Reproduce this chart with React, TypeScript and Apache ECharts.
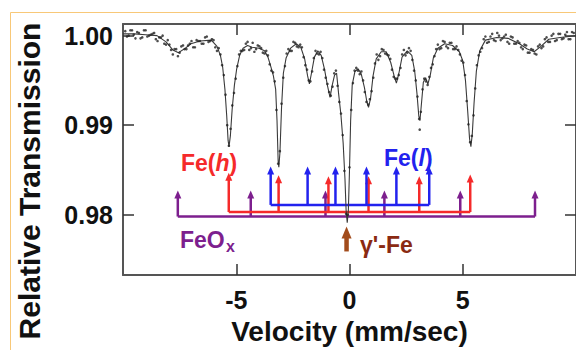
import React, { useEffect, useRef } from 'react';
import * as echarts from 'echarts';

// ---------- data ----------
const xTickLabels = [-5, 0, 5];
const yTickLabels = [0.98, 0.99, 1.0];

// fitted transmission curve [velocity mm/s, relative transmission]
const fitCurve: [number, number][] = [
  [-10.0, 1.0002], [-9.5, 1.0002], [-9.0, 1.0001], [-8.5, 1.0], [-8.1, 0.9993],
  [-7.8, 0.9984], [-7.55, 0.9981], [-7.3, 0.9985], [-7.0, 0.9991], [-6.6, 0.9994],
  [-6.1, 0.9995], [-5.85, 0.9988], [-5.7, 0.9978], [-5.6, 0.9965], [-5.5, 0.994],
  [-5.42, 0.991], [-5.36, 0.9883], [-5.32, 0.9876], [-5.26, 0.9888], [-5.18, 0.9918],
  [-5.08, 0.9945], [-4.98, 0.9963], [-4.85, 0.9978], [-4.7, 0.9986], [-4.5, 0.9989],
  [-4.3, 0.9987], [-4.0, 0.9986], [-3.75, 0.9983], [-3.6, 0.9976], [-3.48, 0.9966],
  [-3.36, 0.9955], [-3.26, 0.994], [-3.2, 0.9905], [-3.15, 0.986], [-3.12, 0.9853],
  [-3.07, 0.987], [-3.0, 0.992], [-2.92, 0.9958], [-2.8, 0.9975], [-2.6, 0.9986],
  [-2.35, 0.9991], [-2.15, 0.9987], [-1.98, 0.9974], [-1.85, 0.9955], [-1.77, 0.9946],
  [-1.68, 0.9958], [-1.55, 0.9976], [-1.4, 0.9983], [-1.25, 0.9978], [-1.1, 0.9962],
  [-0.98, 0.9945], [-0.86, 0.9931], [-0.76, 0.9945], [-0.66, 0.9956], [-0.57, 0.9958],
  [-0.48, 0.9935], [-0.38, 0.9912], [-0.28, 0.988], [-0.2, 0.984], [-0.15, 0.9805],
  [-0.1, 0.9791], [-0.05, 0.9805], [0.0, 0.985], [0.05, 0.9905], [0.12, 0.9945],
  [0.24, 0.996], [0.38, 0.9963], [0.52, 0.9957], [0.66, 0.9942], [0.76, 0.9927],
  [0.84, 0.992], [0.93, 0.993], [1.04, 0.9955], [1.18, 0.9974], [1.4, 0.9982],
  [1.62, 0.9982], [1.82, 0.997], [1.97, 0.9955], [2.07, 0.9947], [2.18, 0.9958],
  [2.32, 0.9976], [2.55, 0.9983], [2.75, 0.9978], [2.88, 0.996], [2.98, 0.9935],
  [3.06, 0.991], [3.11, 0.9905], [3.18, 0.9925], [3.26, 0.9948], [3.36, 0.9953],
  [3.46, 0.9946], [3.56, 0.9955], [3.7, 0.9975], [3.9, 0.9986], [4.2, 0.9991],
  [4.55, 0.9989], [4.85, 0.9982], [5.0, 0.9972], [5.12, 0.995], [5.22, 0.9915],
  [5.3, 0.9885], [5.36, 0.9876], [5.42, 0.989], [5.5, 0.9925], [5.6, 0.996],
  [5.75, 0.9983], [6.0, 0.9995], [6.5, 0.9998], [7.0, 0.9997], [7.5, 0.9991],
  [7.85, 0.9985], [8.15, 0.9982], [8.45, 0.9988], [8.8, 0.9996], [9.3, 0.9998],
  [10.0, 1.0],
];

// measured points, first channel set [velocity mm/s, relative transmission]
const measuredA: [number, number][] = [
  [-9.9, 1.0005], [-9.75, 1.0], [-9.6, 1.0006], [-9.45, 0.9997], [-9.3, 1.0003],
  [-9.15, 0.9998], [-9.0, 1.0006], [-8.85, 1.0], [-8.7, 1.0002], [-8.55, 0.9996],
  [-8.4, 0.9998], [-8.25, 1.0], [-8.1, 0.999], [-7.95, 0.999], [-7.8, 0.9979],
  [-7.65, 0.9985], [-7.5, 0.9981], [-7.35, 0.9989], [-7.2, 0.9985], [-7.05, 0.9991],
  [-6.9, 0.9987], [-6.75, 0.9995], [-6.6, 0.9994], [-6.45, 0.9991], [-6.3, 0.9999],
  [-6.15, 0.9994], [-6.0, 0.9995], [-5.85, 0.9983], [-5.7, 0.9979], [-5.55, 0.9956],
  [-5.4, 0.99], [-5.25, 0.9896], [-5.1, 0.9936], [-4.95, 0.9966], [-4.8, 0.9983],
  [-4.65, 0.9984], [-4.5, 0.9993], [-4.35, 0.9986], [-4.2, 0.9982], [-4.05, 0.9989],
  [-3.9, 0.9986], [-3.75, 0.998], [-3.6, 0.9978], [-3.45, 0.9961], [-3.3, 0.9949],
  [-3.15, 0.9857], [-3.0, 0.9924], [-2.85, 0.9966], [-2.7, 0.9985], [-2.55, 0.9983],
  [-2.4, 0.9992], [-2.25, 0.9987], [-2.1, 0.9987], [-1.95, 0.9967], [-1.8, 0.995],
  [-1.65, 0.996], [-1.5, 0.9983], [-1.35, 0.9979], [-1.2, 0.9975], [-1.05, 0.9953],
  [-0.9, 0.9937], [-0.75, 0.9943], [-0.6, 0.9961], [-0.45, 0.9926], [-0.3, 0.9889],
  [-0.15, 0.9801], [0.0, 0.9853], [0.15, 0.9947], [0.3, 0.9964], [0.45, 0.9957],
  [0.6, 0.995], [0.75, 0.9926], [0.9, 0.9929], [1.05, 0.9953], [1.2, 0.9979],
  [1.35, 0.9977], [1.5, 0.9984], [1.65, 0.9979], [1.8, 0.9974], [1.95, 0.9954],
  [2.1, 0.9952], [2.25, 0.9964], [2.4, 0.9984], [2.55, 0.9981], [2.7, 0.9983],
  [2.85, 0.9961], [3.0, 0.9932], [3.1, 0.9895], [3.15, 0.9915], [3.3, 0.9952],
  [3.45, 0.9945], [3.6, 0.9964], [3.75, 0.9977], [3.9, 0.999], [4.05, 0.9986],
  [4.2, 0.9993], [4.35, 0.9986], [4.5, 0.9992], [4.65, 0.9985], [4.8, 0.9984],
  [4.95, 0.9972], [5.1, 0.9956], [5.25, 0.9901], [5.4, 0.9888], [5.55, 0.9941],
  [5.7, 0.9978], [5.85, 0.9986], [6.0, 0.9999], [6.15, 0.9993], [6.3, 1.0002],
  [6.45, 0.9994], [6.6, 1.0], [6.75, 0.9997], [6.9, 1.0001], [7.05, 0.9991],
  [7.2, 0.9998], [7.35, 0.9991], [7.5, 0.9992], [7.65, 0.9985], [7.8, 0.9989],
  [7.95, 0.9981], [8.1, 0.9984], [8.25, 0.9979], [8.4, 0.999], [8.55, 0.9988],
  [8.7, 0.9998], [8.85, 0.9993], [9.0, 1.0002], [9.15, 0.9995], [9.3, 1.0002],
  [9.45, 0.9997], [9.6, 1.0004], [9.75, 0.9996], [9.9, 1.0003],
];

// measured points, second (interleaved) channel set
const measuredB: [number, number][] = [
  [-9.825, 0.9999], [-9.675, 1.0006], [-9.525, 1.0001], [-9.375, 1.0004], [-9.225, 0.9997],
  [-9.075, 1.0006], [-8.925, 0.9999], [-8.775, 1.0001], [-8.625, 1.0003], [-8.475, 0.9994],
  [-8.325, 0.9998], [-8.175, 0.9991], [-8.025, 0.9995], [-7.875, 0.9984], [-7.725, 0.9985],
  [-7.575, 0.9977], [-7.425, 0.9988], [-7.275, 0.9985], [-7.125, 0.9989], [-6.975, 0.9994],
  [-6.825, 0.9987], [-6.675, 0.9994], [-6.525, 0.9991], [-6.375, 0.9998], [-6.225, 0.9993],
  [-6.075, 0.9996], [-5.925, 0.9987], [-5.775, 0.9986], [-5.625, 0.9967], [-5.475, 0.9934],
  [-5.325, 0.9877], [-5.175, 0.9922], [-5.025, 0.9952], [-4.875, 0.9979], [-4.725, 0.9983],
  [-4.575, 0.9991], [-4.425, 0.9984], [-4.275, 0.9992], [-4.125, 0.9985], [-3.975, 0.9988],
  [-3.825, 0.9981], [-3.675, 0.9983], [-3.525, 0.9968], [-3.375, 0.9959], [-3.225, 0.9917],
  [-3.075, 0.9871], [-2.925, 0.9953], [-2.775, 0.998], [-2.625, 0.9983], [-2.475, 0.9993],
  [-2.325, 0.9988], [-2.175, 0.999], [-2.025, 0.9976], [-1.875, 0.9962], [-1.725, 0.9949],
  [-1.575, 0.9975], [-1.425, 0.998], [-1.275, 0.9982], [-1.125, 0.9962], [-0.975, 0.9946],
  [-0.825, 0.9933], [-0.675, 0.9958], [-0.525, 0.9944], [-0.375, 0.9913], [-0.225, 0.9849],
  [-0.075, 0.98], [0.075, 0.9917], [0.225, 0.9961], [0.375, 0.9961], [0.525, 0.996],
  [0.675, 0.9937], [0.825, 0.9923], [0.975, 0.9938], [1.125, 0.9969], [1.275, 0.9973],
  [1.425, 0.9985], [1.575, 0.998], [1.725, 0.9978], [1.875, 0.9962], [2.025, 0.9952],
  [2.175, 0.9956], [2.325, 0.9979], [2.475, 0.9978], [2.625, 0.9986], [2.775, 0.9973],
  [2.925, 0.995], [3.075, 0.9907], [3.225, 0.994], [3.375, 0.9949], [3.525, 0.9954],
  [3.675, 0.9968], [3.825, 0.9985], [3.975, 0.9985], [4.125, 0.9994], [4.275, 0.9988],
  [4.425, 0.9992], [4.575, 0.9985], [4.725, 0.9988], [4.875, 0.9979], [5.025, 0.997],
  [5.175, 0.9927], [5.325, 0.9881], [5.475, 0.9911], [5.625, 0.9967], [5.775, 0.9982],
  [5.925, 0.9996], [6.075, 0.9992], [6.225, 0.9999], [6.375, 0.9995], [6.525, 1.0003],
  [6.675, 0.9995], [6.825, 0.9999], [6.975, 0.9993], [7.125, 0.9999], [7.275, 0.9991],
  [7.425, 0.9994], [7.575, 0.9987], [7.725, 0.999], [7.875, 0.9981], [8.025, 0.9985],
  [8.175, 0.998], [8.325, 0.9988], [8.475, 0.9986], [8.625, 0.9996], [8.775, 0.9993],
  [8.925, 1.0], [9.075, 0.9994], [9.225, 1.0002], [9.375, 0.9996], [9.525, 1.0001],
  [9.675, 0.9996], [9.825, 1.0004],
];

// stick diagrams: line positions (mm/s), base level and arrow-tip level
const feHighPositions = [-5.33, -3.13, -0.93, 0.84, 3.08, 5.33];
const feHighTips = [0.9847, 0.9844, 0.9843, 0.9843, 0.9843, 0.9845];
const feHighBase = 0.9803;

const feLowPositions = [-3.48, -1.85, -0.62, 0.75, 2.07, 3.52];
const feLowTips = [0.9854, 0.9854, 0.9854, 0.9854, 0.9854, 0.9854];
const feLowBase = 0.9811;

const feOxPositions = [-7.58, -4.36, -1.06, 1.54, 4.89, 8.19];
const feOxTips = [0.9827, 0.9827, 0.9827, 0.9827, 0.9827, 0.9827];
const feOxBase = 0.9798;

const gammaPositions = [-0.13];
const gammaTips = [0.9787];
const gammaBase = 0.9759;

// ---------- styling ----------
const FONT = 'Arial, "Liberation Sans", Helvetica, sans-serif';
const RED = '#f52a2a';
const BLUE = '#2222ee';
const PURPLE = '#7d1f8e';
const BROWN = '#a24c1c';
const BROWN_TEXT = '#8a2a12';
const AXIS = '#555';

function stickRenderer(color: string, lw: number, headW: number, headH: number) {
  return (_params: any, api: any) => {
    const v = api.value(0);
    const p0 = api.coord([v, api.value(1)]);
    const p1 = api.coord([v, api.value(2)]);
    return {
      type: 'group',
      children: [
        {
          type: 'line',
          shape: { x1: p0[0], y1: p0[1], x2: p1[0], y2: p1[1] + headH - 1 },
          style: { stroke: color, lineWidth: lw },
        },
        {
          type: 'polygon',
          shape: {
            points: [
              [p1[0], p1[1]],
              [p1[0] - headW / 2, p1[1] + headH],
              [p1[0] + headW / 2, p1[1] + headH],
            ],
          },
          style: { fill: color },
        },
      ],
    };
  };
}

function stickSeries(name: string, pos: number[], tips: number[], base: number, color: string, lw = 2.5, hw = 7, hh = 8) {
  return {
    type: 'custom',
    name,
    xAxisIndex: 0,
    yAxisIndex: 0,
    data: pos.map((p, i) => [p, base, tips[i]]),
    encode: { x: 0, y: [1, 2] },
    renderItem: stickRenderer(color, lw, hw, hh),
    silent: true,
    z: 2,
  };
}

function baseSeries(name: string, pos: number[], base: number, color: string) {
  return {
    type: 'line',
    name,
    data: [[Math.min(...pos), base], [Math.max(...pos), base]],
    showSymbol: false,
    symbol: 'none',
    lineStyle: { color, width: 2.5 },
    silent: true,
    z: 2,
  };
}

export default function App() {
  const ref = useRef<HTMLDivElement>(null);
  useEffect(() => {
    if (!ref.current) return;
    const chart = echarts.init(ref.current, undefined, { renderer: 'svg' });
    const yMin = 0.97326;
    const yMax = 1.0013;
    const axisLine = { show: true, onZero: false, lineStyle: { color: AXIS, width: 2 } };
    const tick = (vals: number[]) => ({ show: true, inside: true, length: 11, customValues: vals, lineStyle: { color: '#333', width: 1.5 } });
    const option: any = {
      animation: false,
      backgroundColor: '#fff',
      grid: { left: 123, top: 24, width: 455, height: 258 },
      xAxis: [
        {
          type: 'value', min: -10, max: 10, interval: 5, position: 'bottom',
          axisLine, axisTick: tick(xTickLabels),
          axisLabel: { customValues: xTickLabels, fontSize: 25, fontWeight: 'bold', color: '#111', margin: 12, fontFamily: FONT },
          splitLine: { show: false },
          name: 'Velocity (mm/sec)', nameLocation: 'middle', nameGap: 38,
          nameTextStyle: { fontSize: 28, fontWeight: 'bold', color: '#111', fontFamily: FONT },
        },
        {
          type: 'value', min: -10, max: 10, interval: 5, position: 'top',
          axisLine, axisTick: tick(xTickLabels), axisLabel: { show: false }, splitLine: { show: false },
        },
      ],
      yAxis: [
        {
          type: 'value', min: yMin, max: yMax, position: 'left',
          axisLine, axisTick: tick(yTickLabels),
          axisLabel: {
            customValues: yTickLabels, formatter: (v: number) => v.toFixed(2),
            fontSize: 25, fontWeight: 'bold', color: '#111', margin: 10, fontFamily: FONT,
          },
          splitLine: { show: false },
        },
        {
          type: 'value', min: yMin, max: yMax, position: 'right',
          axisLine, axisTick: tick(yTickLabels), axisLabel: { show: false }, splitLine: { show: false },
        },
      ],
      series: [
        baseSeries('FeOx base', feOxPositions, feOxBase, PURPLE),
        stickSeries('FeOx', feOxPositions, feOxTips, feOxBase, PURPLE),
        baseSeries('Fe(h) base', feHighPositions, feHighBase, RED),
        stickSeries('Fe(h)', feHighPositions, feHighTips, feHighBase, RED),
        baseSeries('Fe(l) base', feLowPositions, feLowBase, BLUE),
        stickSeries('Fe(l)', feLowPositions, feLowTips, feLowBase, BLUE),
        stickSeries("γ'-Fe", gammaPositions, gammaTips, gammaBase, BROWN, 4.5, 10, 12),
        {
          type: 'line', name: 'fit', data: fitCurve, showSymbol: false, symbol: 'none',
          lineStyle: { color: '#3a3a3a', width: 1.1 }, z: 3, silent: true,
        },
        {
          type: 'scatter', name: 'data', data: measuredA.concat(measuredB), symbolSize: 2.6,
          itemStyle: { color: '#222' }, z: 4, silent: true,
        },
      ],
      graphic: [
        { type: 'line', shape: { x1: 10.5, y1: 12.5, x2: 576, y2: 12.5 }, style: { stroke: '#f8c878', lineWidth: 1 }, z: 0 },
        { type: 'line', shape: { x1: 10.5, y1: 12.5, x2: 10.5, y2: 350 }, style: { stroke: '#f8c878', lineWidth: 1 }, z: 0 },
        {
          type: 'text', x: 29, y: 181, rotation: Math.PI / 2, z: 10,
          style: {
            text: 'Relative Transmission', fontSize: 30, fontWeight: 'bold', fill: '#111',
            fontFamily: FONT, align: 'center', verticalAlign: 'middle',
          },
        },
        {
          type: 'text', x: 181, y: 163, z: 10,
          style: {
            text: '{a|Fe(}{b|h}{a|)}', verticalAlign: 'middle', align: 'left',
            rich: {
              a: { fontSize: 23, fontWeight: 'bold', fill: RED, fontFamily: FONT },
              b: { fontSize: 23, fontWeight: 'bold', fontStyle: 'italic', fill: RED, fontFamily: FONT },
            },
          },
        },
        {
          type: 'text', x: 384, y: 158, z: 10,
          style: {
            text: '{a|Fe(}{b|l}{a|)}', verticalAlign: 'middle', align: 'left',
            rich: {
              a: { fontSize: 23, fontWeight: 'bold', fill: BLUE, fontFamily: FONT },
              b: { fontSize: 23, fontWeight: 'bold', fontStyle: 'italic', fill: BLUE, fontFamily: FONT },
            },
          },
        },
        {
          type: 'text', x: 180, y: 240, z: 10,
          style: { text: 'FeO', fontSize: 23, fontWeight: 'bold', fill: PURPLE, fontFamily: FONT, verticalAlign: 'middle', align: 'left' },
        },
        {
          type: 'text', x: 226, y: 246, z: 10,
          style: { text: 'x', fontSize: 16, fontWeight: 'bold', fill: PURPLE, fontFamily: FONT, verticalAlign: 'middle', align: 'left' },
        },
        {
          type: 'text', x: 360, y: 245, z: 10,
          style: { text: "γ'-Fe", fontSize: 23, fontWeight: 'bold', fill: BROWN_TEXT, fontFamily: FONT, verticalAlign: 'middle', align: 'left' },
        },
      ],
    };
    chart.setOption(option);
    return () => chart.dispose();
  }, []);
  return (
    <div
      ref={ref}
      style={{ position: 'fixed', left: 0, top: 0, width: 576, height: 350, background: '#fff' }}
    />
  );
}
